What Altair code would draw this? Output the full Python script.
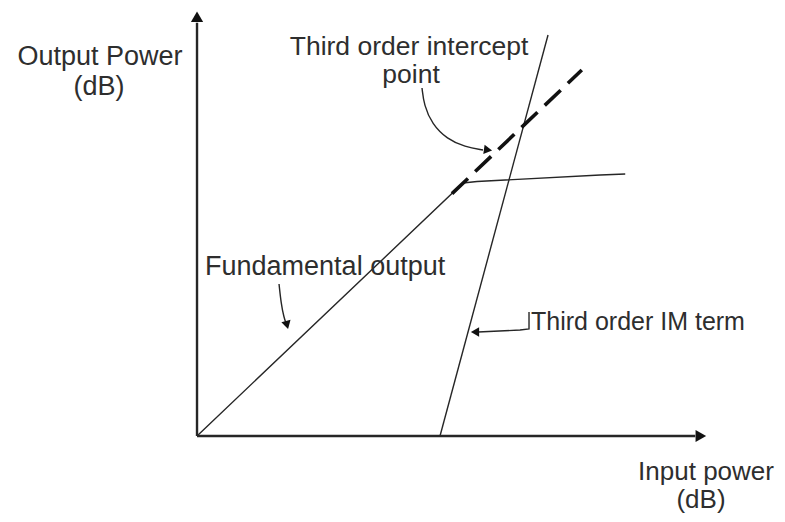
import altair as alt
import pandas as pd

# ---- data (arbitrary dB units; input power on x, output power on y) ----
fund_x = [0.0, 52.05, 54.8, 78.9, 83.8]
fund_y = [0.0, 59.39, 59.74, 61.27, 61.5]

im_x = [47.55, 68.69]
im_y = [0.0, 94.13]

ext_x = [49.9, 75.3]
ext_y = [56.9, 85.9]

yaxis_x = [0.0, 0.0]
yaxis_y = [0.0, 97.0]
xaxis_x = [0.0, 97.5]
xaxis_y = [0.0, 0.0]

# annotation leader lines
lead_int_x = [44.03, 44.42, 45.99, 48.92, 52.45, 55.97]
lead_int_y = [81.69, 77.70, 73.24, 69.72, 67.84, 67.14]
lead_fund_x = [16.05, 16.44, 17.03, 17.4]
lead_fund_y = [35.68, 31.22, 27.70, 26.6]
lead_im_x = [64.97, 64.97, 63.21, 54.99]
lead_im_y = [29.11, 25.12, 24.88, 24.41]

# arrow heads: x, y, shape, angle
head_x = [0.0, 98.6, 56.95, 17.61, 54.40]
head_y = [98.4, 0.0, 67.14, 26.06, 24.41]
head_shape = ["triangle-up", "triangle-right", "triangle-right", "triangle-down", "triangle-left"]
head_angle = [0, 0, 8, 345, 0]
head_size = [150, 150, 90, 90, 90]

# labels
lab_c_text = ["Output Power", "(dB)", "Third order intercept", "point", "Input power", "(dB)"]
lab_c_x = [-18.98, -19.18, 41.49, 41.88, 99.61, 98.63]
lab_c_y = [87.09, 80.05, 89.44, 82.86, -10.33, -16.90]
lab_c_fs = [27, 27, 26.5, 26.5, 26, 26]

lab_l_text = ["Fundamental output", "Third order IM term"]
lab_l_x = [1.57, 65.36]
lab_l_y = [37.79, 24.88]
lab_l_fs = [27, 25]

X_DOMAIN = [-36.99, 113.50]
Y_DOMAIN = [-18.31, 100.47]

INK = "#262626"


def lines_df(series):
    rows = []
    for name, xs, ys in series:
        for i, (a, b) in enumerate(zip(xs, ys)):
            rows.append({"s": name, "i": i, "x": a, "y": b})
    return pd.DataFrame(rows)


xs = alt.Scale(domain=X_DOMAIN, nice=False, zero=False)
ys = alt.Scale(domain=Y_DOMAIN, nice=False, zero=False)

def enc_xy():
    return dict(
        x=alt.X("x:Q", scale=xs, axis=None),
        y=alt.Y("y:Q", scale=ys, axis=None),
    )

axes_df = lines_df([("yaxis", yaxis_x, yaxis_y), ("xaxis", xaxis_x, xaxis_y)])
axes = alt.Chart(axes_df).mark_line(color=INK, strokeWidth=2.4).encode(
    **enc_xy(), detail="s:N", order="i:Q"
)

main_df = lines_df([
    ("fund", fund_x, fund_y),
    ("im", im_x, im_y),
    ("lead_im", lead_im_x, lead_im_y),
])
main = alt.Chart(main_df).mark_line(color=INK, strokeWidth=1.4).encode(
    **enc_xy(), detail="s:N", order="i:Q"
)

curve_df = lines_df([("lead_int", lead_int_x, lead_int_y), ("lead_fund", lead_fund_x, lead_fund_y)])
curves = alt.Chart(curve_df).mark_line(color=INK, strokeWidth=1.4, interpolate="basis").encode(
    **enc_xy(), detail="s:N", order="i:Q"
)

ext_df = lines_df([("ext", ext_x, ext_y)])
ext = alt.Chart(ext_df).mark_line(color="#111111", strokeWidth=3.6, strokeDash=[22, 10]).encode(
    **enc_xy(), order="i:Q"
)

heads_df = pd.DataFrame({"x": head_x, "y": head_y, "shape": head_shape,
                         "angle": head_angle, "size": head_size})
heads = alt.Chart(heads_df).mark_point(filled=True, color="#111111", opacity=1).encode(
    **enc_xy(),
    shape=alt.Shape("shape:N", scale=None),
    angle=alt.Angle("angle:Q", scale=None),
    size=alt.Size("size:Q", scale=None),
)

lc_df = pd.DataFrame({"t": lab_c_text, "x": lab_c_x, "y": lab_c_y, "fs": lab_c_fs})
labels_c = alt.Chart(lc_df).mark_text(
    align="center", baseline="alphabetic", font="Liberation Sans", color="#2e2e2e"
).encode(**enc_xy(), text="t:N", size=alt.Size("fs:Q", scale=None))

ll_df = pd.DataFrame({"t": lab_l_text, "x": lab_l_x, "y": lab_l_y, "fs": lab_l_fs})
labels_l = alt.Chart(ll_df).mark_text(
    align="left", baseline="alphabetic", font="Liberation Sans", color="#2e2e2e"
).encode(**enc_xy(), text="t:N", size=alt.Size("fs:Q", scale=None))

chart = alt.layer(axes, main, curves, ext, heads, labels_c, labels_l).properties(
    width=769, height=506, padding=0,
    autosize=alt.AutoSizeParams(type="none"),
    background="white",
).configure_view(stroke=None)

chart.save("out.html", embed_options={"renderer": "svg", "actions": False})
